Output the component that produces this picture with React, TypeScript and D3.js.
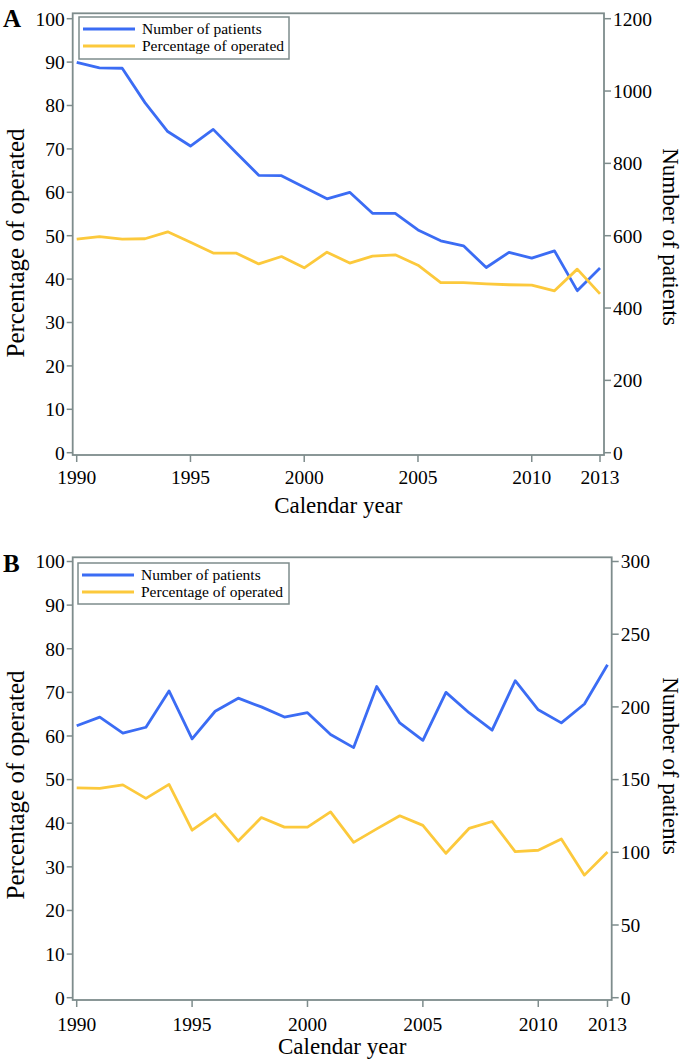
import React from "react";
import * as d3 from "d3";

const years = [1990, 1991, 1992, 1993, 1994, 1995, 1996, 1997, 1998, 1999, 2000, 2001, 2002, 2003, 2004, 2005, 2006, 2007, 2008, 2009, 2010, 2011, 2012, 2013];
const xTicks = [1990, 1995, 2000, 2005, 2010, 2013];

const patientsA = [1079, 1064, 1063, 968, 888, 848, 894, 830, 767, 766, 734, 702, 720, 662, 662, 616, 586, 572, 512, 554, 538, 558, 448, 511];
const operatedA = [49.2, 49.8, 49.2, 49.3, 50.9, 48.5, 46.0, 46.0, 43.5, 45.2, 42.6, 46.2, 43.7, 45.3, 45.6, 43.2, 39.2, 39.2, 38.9, 38.7, 38.6, 37.3, 42.3, 36.6];
const patientsB = [187, 193, 182, 186, 211, 178, 197, 206, 200, 193, 196, 181, 172, 214, 189, 177, 210, 196, 184, 218, 198, 189, 202, 229];
const operatedB = [48.1, 48.0, 48.8, 45.7, 48.9, 38.4, 42.1, 35.9, 41.3, 39.1, 39.1, 42.6, 35.6, 38.7, 41.7, 39.5, 33.1, 38.8, 40.4, 33.5, 33.8, 36.4, 28.1, 33.4];

const leftTicks = [0, 10, 20, 30, 40, 50, 60, 70, 80, 90, 100];
const rightTicksA = [0, 200, 400, 600, 800, 1000, 1200];
const rightTicksB = [0, 50, 100, 150, 200, 250, 300];

const legendLabels = ["Number of patients", "Percentage of operated"];

const BLUE = "#3b6cf4";
const YELLOW = "#fcc93c";
const FRAME = "#7e8c8c";
const FONT = "'Liberation Serif', 'Times New Roman', serif";

type PanelProps = {
  label: string;
  patients: number[];
  operated: number[];
  rightTicks: number[];
  rightMax: number;
  frame: { left: number; right: number; top: number; bottom: number };
  xRange: [number, number];
  yRange: [number, number];
  xLabelY: number;
  xTitleY: number;
  labelY: number;
  leftTitleY: number;
  rightTitleY: number;
  legend: { x: number; y: number; w: number; h: number };
};

function Panel(p: PanelProps) {
  const x = d3.scaleLinear().domain([1990, 2013]).range(p.xRange);
  const yL = d3.scaleLinear().domain([0, 100]).range(p.yRange);
  const yR = d3.scaleLinear().domain([0, p.rightMax]).range(p.yRange);
  const lineR = d3.line<number>().x((_, i) => x(years[i])).y((d) => yR(d));
  const lineL = d3.line<number>().x((_, i) => x(years[i])).y((d) => yL(d));
  const { left, right, top, bottom } = p.frame;
  const lg = p.legend;
  return (
    <g>
      <text x={3} y={p.labelY} fontFamily={FONT} fontSize={25} fontWeight="bold">{p.label}</text>
      <rect x={left} y={top} width={right - left} height={bottom - top} fill="none" stroke={FRAME} strokeWidth={1.8} />
      {leftTicks.map((t) => (
        <g key={"l" + t}>
          <line x1={left - 6} x2={left} y1={yL(t)} y2={yL(t)} stroke={FRAME} strokeWidth={1.5} />
          <text x={left - 8} y={yL(t)} dy="0.35em" textAnchor="end" fontFamily={FONT} fontSize={19.5}>{t}</text>
        </g>
      ))}
      {p.rightTicks.map((t) => (
        <g key={"r" + t}>
          <line x1={right} x2={right + 7} y1={yR(t)} y2={yR(t)} stroke={FRAME} strokeWidth={1.5} />
          <text x={right + 9} y={yR(t)} dy="0.35em" textAnchor="start" fontFamily={FONT} fontSize={19.5}>{t}</text>
        </g>
      ))}
      {xTicks.map((t) => (
        <g key={"x" + t}>
          <line x1={x(t)} x2={x(t)} y1={bottom} y2={bottom + 7} stroke={FRAME} strokeWidth={1.5} />
          <text x={x(t)} y={p.xLabelY} textAnchor="middle" fontFamily={FONT} fontSize={19.5}>{t}</text>
        </g>
      ))}
      <text x={(left + right) / 2} y={p.xTitleY} textAnchor="middle" fontFamily={FONT} fontSize={23}>Calendar year</text>
      <text transform={`translate(24,${p.leftTitleY}) rotate(-90)`} textAnchor="middle" fontFamily={FONT} fontSize={25}>Percentage of operated</text>
      <text transform={`translate(663,${p.rightTitleY}) rotate(90)`} textAnchor="middle" fontFamily={FONT} fontSize={23}>Number of patients</text>
      <path d={lineR(p.patients) || ""} fill="none" stroke={BLUE} strokeWidth={2.8} strokeLinejoin="round" />
      <path d={lineL(p.operated) || ""} fill="none" stroke={YELLOW} strokeWidth={2.8} strokeLinejoin="round" />
      <rect x={lg.x} y={lg.y} width={lg.w} height={lg.h} fill="#fff" stroke={FRAME} strokeWidth={1.5} />
      {legendLabels.map((lab, i) => (
        <g key={lab}>
          <line x1={lg.x + 4} x2={lg.x + 56} y1={lg.y + 12 + i * 17} y2={lg.y + 12 + i * 17} stroke={i === 0 ? BLUE : YELLOW} strokeWidth={2.8} />
          <text x={lg.x + 63} y={lg.y + 12 + i * 17} dy="0.35em" fontFamily={FONT} fontSize={15.5}>{lab}</text>
        </g>
      ))}
    </g>
  );
}

export default function App() {
  return (
    <svg width={685} height={1062} style={{ position: "absolute", left: 0, top: 0, background: "#fff" }}>
      <rect x={0} y={0} width={685} height={1062} fill="#fff" />
      <Panel
        label="A"
        patients={patientsA}
        operated={operatedA}
        rightTicks={rightTicksA}
        rightMax={1200}
        frame={{ left: 72.7, right: 604, top: 13.3, bottom: 455 }}
        xRange={[76.7, 600]}
        yRange={[452.7, 18.7]}
        xLabelY={484}
        xTitleY={513}
        labelY={27}
        leftTitleY={243}
        rightTitleY={237}
        legend={{ x: 79, y: 17, w: 210, h: 42 }}
      />
      <Panel
        label="B"
        patients={patientsB}
        operated={operatedB}
        rightTicks={rightTicksB}
        rightMax={300}
        frame={{ left: 72.7, right: 611.7, top: 557.3, bottom: 1000 }}
        xRange={[76.7, 607.5]}
        yRange={[997.7, 561.5]}
        xLabelY={1031}
        xTitleY={1054}
        labelY={572}
        leftTitleY={785}
        rightTitleY={766}
        legend={{ x: 78, y: 563, w: 211, h: 41 }}
      />
    </svg>
  );
}
